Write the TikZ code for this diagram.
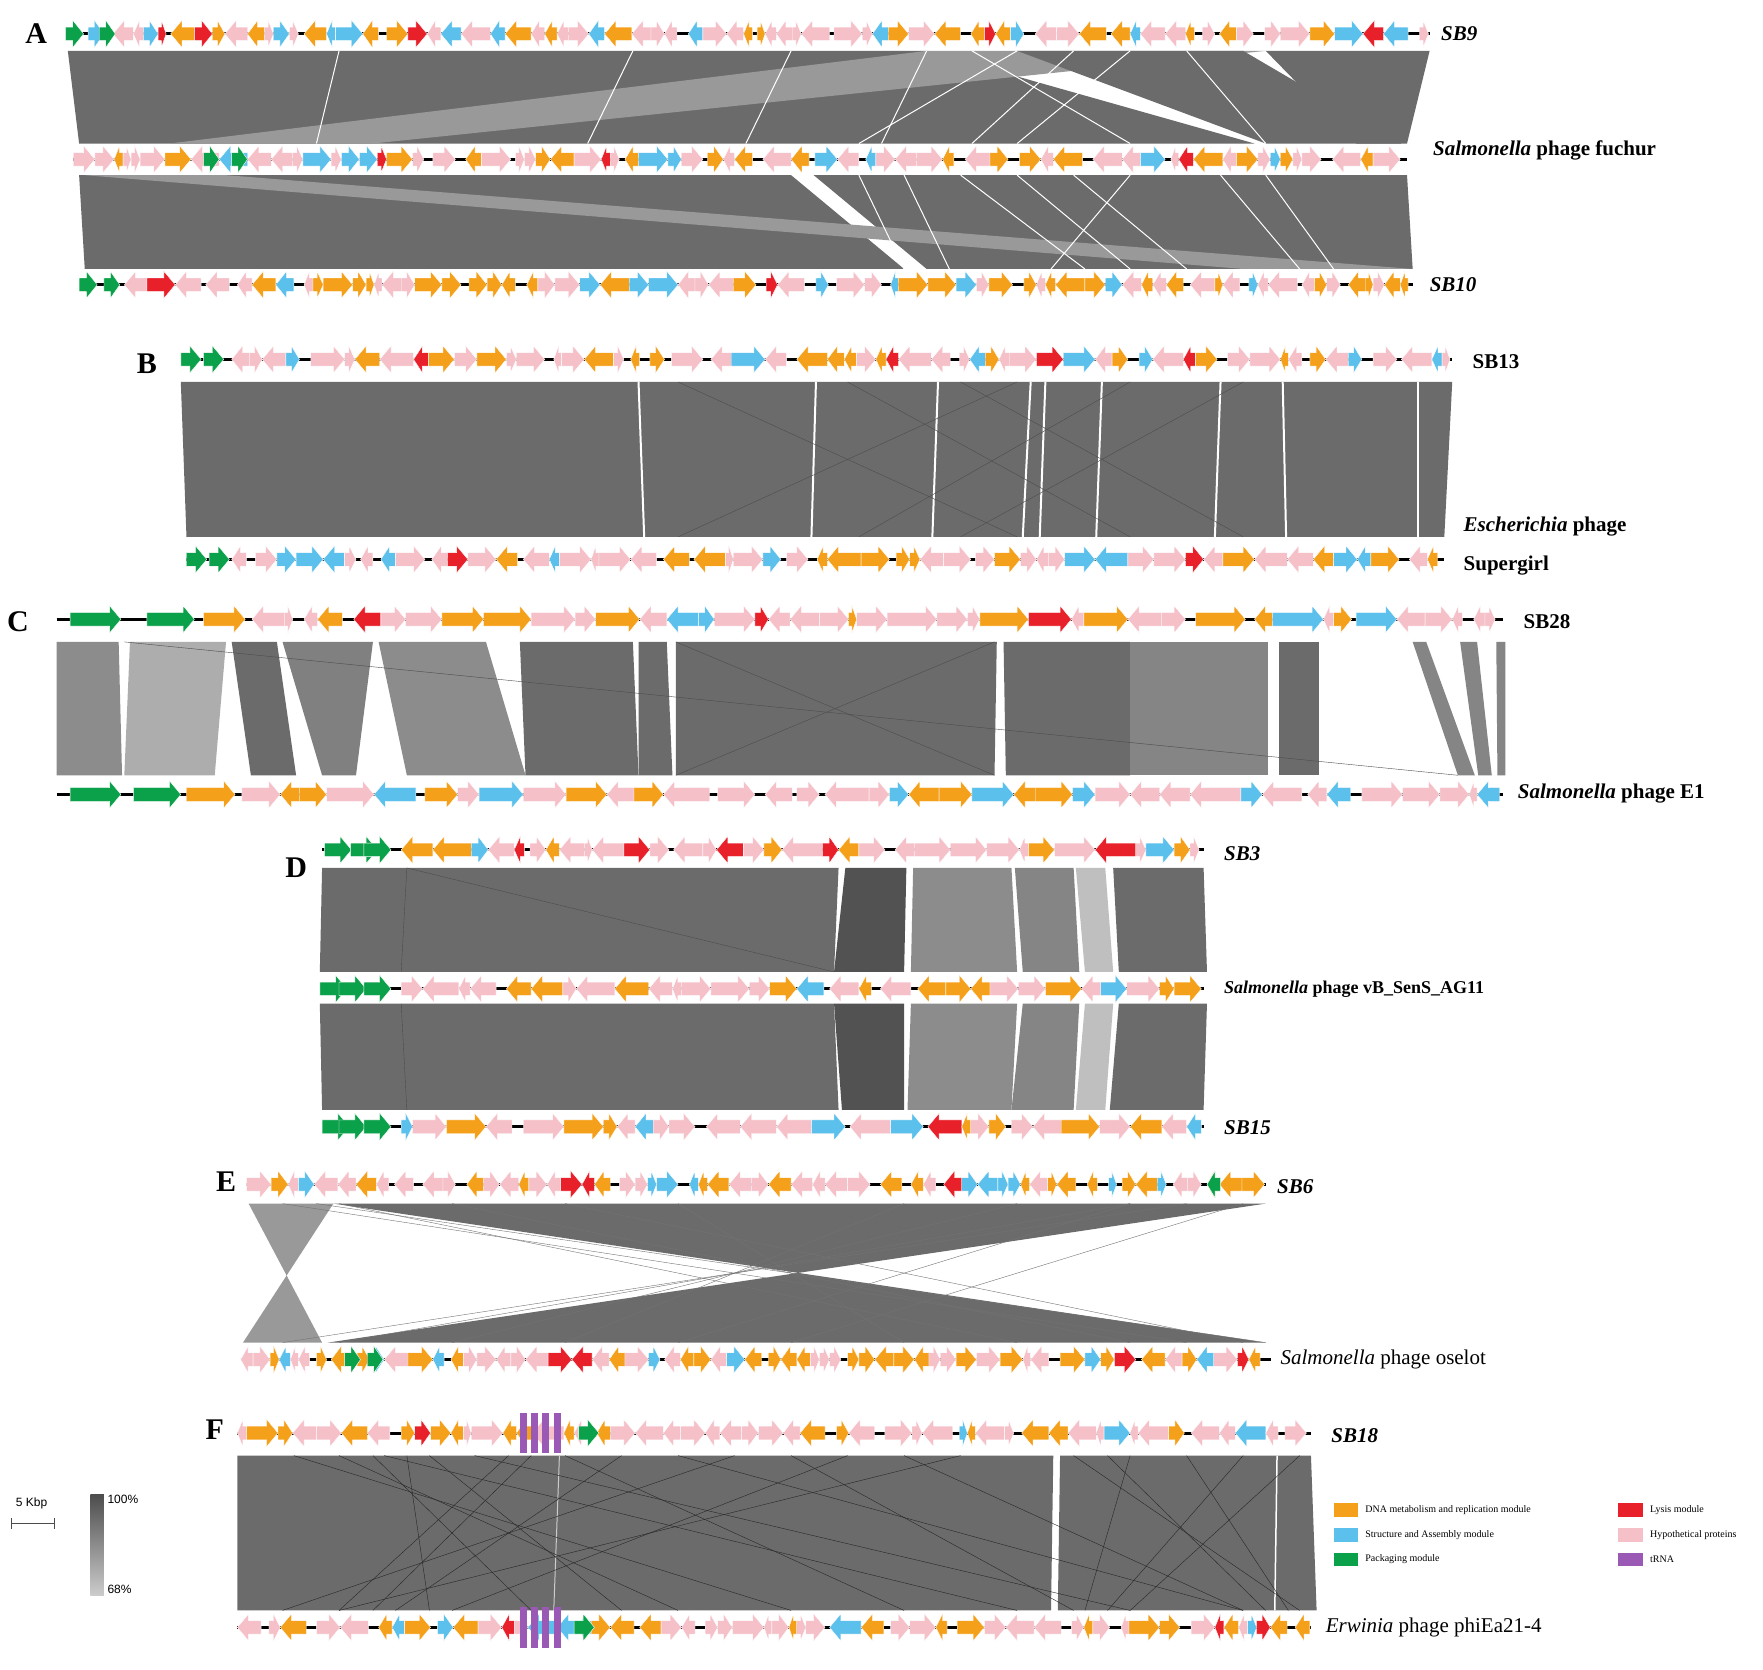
\documentclass[tikz,border=0pt]{standalone}
\usepackage{fontspec}
\setmainfont{Liberation Serif}
\setsansfont{Liberation Sans}
\definecolor{gor}{HTML}{F5A01A}
\definecolor{gbl}{HTML}{5BC0EB}
\definecolor{gpk}{HTML}{F5C0C8}
\definecolor{ggr}{HTML}{0BA04A}
\definecolor{grd}{HTML}{E8202A}
\definecolor{gpu}{HTML}{9B59B6}
\tikzset{band/.style={fill=black!58},lband/.style={fill=black!40},
 wl/.style={white,line width=1pt},xl/.style={black!70,line width=.4pt},
 lab/.style={font=\fontsize{21}{24}\selectfont\bfseries,anchor=west},
 panel/.style={font=\fontsize{30}{32}\selectfont\bfseries}}
\newcommand\garr[5]{%
 \pgfmathsetmacro\tl{min(10,#3*0.6)}%
 \ifnum#4=1
  \fill[#5,draw=white,line width=.4pt] (#1,#2-6)--(#1+#3-\tl,#2-6)--(#1+#3-\tl,#2-12)--(#1+#3,#2)--(#1+#3-\tl,#2+12)--(#1+#3-\tl,#2+6)--(#1,#2+6)--cycle;
 \else
  \fill[#5,draw=white,line width=.4pt] (#1+#3,#2-6)--(#1+\tl,#2-6)--(#1+\tl,#2-12)--(#1,#2)--(#1+\tl,#2+12)--(#1+\tl,#2+6)--(#1+#3,#2+6)--cycle;
 \fi}
% x0 x1 y seed maxw genes-start
\newcommand\genome[6]{%
 \draw[line width=3pt] (#1,#3)--(#2,#3);
 \pgfmathsetseed{#4}%
 \xdef\gx{#6}%
 \foreach \i in {1,...,260}{%
  \pgfmathsetmacro\w{random(7,#5)}%
  \pgfmathtruncatemacro\gp{random(0,9)}%
  \ifnum\gp>7 \pgfmathsetmacro\gp{random(4,10)}\else\def\gp{0}\fi
  \pgfmathsetmacro\nx{\gx+\w}%
  \ifdim\nx pt<#2pt
   \pgfmathtruncatemacro\r{random(1,20)}%
   \pgfmathtruncatemacro\d{random(0,1)}%
   \ifnum\d=0 \def\d{-1}\fi
   \ifnum\r<10 \def\cc{gpk}\else\ifnum\r<16 \def\cc{gor}\else\ifnum\r<19 \def\cc{gbl}\else\ifnum\r=19 \def\cc{grd}\else\def\cc{gpk}\fi\fi\fi\fi
   \garr{\gx}{#3}{\w}{\d}{\cc}%
   \pgfmathsetmacro\gx{\nx+\gp}\xdef\gx{\gx}%
  \fi}}
\begin{document}
\begin{tikzpicture}[x=1.13pt,y=-1.13pt]
\useasboundingbox (0,0) rectangle (1560,1477);
\fill[white] (0,0) rectangle (1560,1477);
% ---------- A
\fill[band] (60,45)--(820,45)--(1110,127)--(70,127)--cycle;
\fill[band] (1120,45)--(1265,45)--(1245,127)--(1200,127)--cycle;
\fill[lband] (820,45)--(1120,45)--(330,127)--(150,127)--cycle;
\fill[band] (900,45)--(1100,45)--(1240,127)--(1120,127)--cycle;
\foreach \a/\b in {300/280,560/520,700/660,820/780,860/1000,900/760,950/860,1000/900,1050/1120}{\draw[wl] (\a,45)--(\b,127);}
\fill[band] (70,155)--(700,155)--(800,238)--(75,238)--cycle;
\fill[band] (720,155)--(1245,155)--(1250,238)--(820,238)--cycle;
\fill[lband] (75,155)--(200,155)--(1250,238)--(1100,238)--cycle;
\foreach \a/\b in {760/800,800/840,850/960,900/1000,950/1050,1000/930,1080/1150,1120/1180}{\draw[wl] (\a,155)--(\b,238);}
\genome{58}{1265}{30}{11}{26}{100}
\garr{58}{30}{16}{1}{ggr}\garr{78}{30}{14}{1}{gbl}\garr{88}{30}{14}{1}{ggr}
\genome{65}{1245}{141}{12}{26}{65}
\genome{70}{1250}{252}{13}{26}{110}
\garr{70}{252}{16}{1}{ggr}\garr{92}{252}{14}{1}{ggr}
\foreach \x in {180,205} {\garr{\x}{141}{14}{1}{ggr}}
\node[panel] at (32,30) {A};
\node[lab] at (1272,30) {\itshape SB9};
\node[lab] at (1265,133) {\itshape Salmonella\upshape{} phage fuchur};
\node[lab] at (1262,252) {\itshape SB10};
% ---------- B
\fill[band] (160,338)--(1285,338)--(1278,475)--(165,475)--cycle;
\foreach \a/\b in {565/570,722/718,830/825,912/905,925/920,975/970,1080/1075,1135/1138,1255/1255}{\draw[wl,line width=2pt] (\a,338)--(\b,475);}
\foreach \a/\b in {600/900,900/600,750/1000,1000/760,850/1100,1100/850}{\draw[xl] (\a,338)--(\b,475);}
\genome{160}{1285}{318}{21}{30}{205}
\garr{160}{318}{18}{1}{ggr}\garr{180}{318}{18}{1}{ggr}
\genome{165}{1278}{495}{22}{30}{205}
\garr{165}{495}{18}{1}{ggr}\garr{185}{495}{18}{1}{ggr}
\node[panel] at (130,322) {B};
\node[lab] at (1300,320) {SB13};
\node[lab] at (1292,466) {\itshape Escherichia\upshape{} phage};
\node[lab] at (1292,500) {Supergirl};
% ---------- C
\fill[black!45] (50,568)--(105,568)--(108,686)--(50,686)--cycle;
\fill[black!32] (115,568)--(200,568)--(190,686)--(110,686)--cycle;
\fill[band] (205,568)--(245,568)--(262,686)--(222,686)--cycle;
\fill[black!50] (250,568)--(330,568)--(315,686)--(285,686)--cycle;
\fill[black!45] (335,568)--(430,568)--(465,686)--(360,686)--cycle;
\fill[band] (460,568)--(560,568)--(565,686)--(465,686)--cycle;
\fill[band] (565,568)--(590,568)--(595,686)--(565,686)--cycle;
\fill[band] (598,568)--(882,568)--(880,686)--(598,686)--cycle;
\fill[band] (888,568)--(1000,568)--(1000,686)--(890,686)--cycle;
\fill[black!48] (1000,568)--(1122,568)--(1122,686)--(1000,686)--cycle;
\fill[band] (1132,568)--(1167,568)--(1167,686)--(1132,686)--cycle;
\fill[black!48] (1250,568)--(1262,568)--(1305,686)--(1290,686)--cycle;
\fill[black!48] (1292,568)--(1307,568)--(1320,686)--(1308,686)--cycle;
\fill[black!48] (1324,568)--(1332,568)--(1332,686)--(1325,686)--cycle;
\draw[xl] (110,568)--(1290,686); \draw[xl] (598,568)--(880,686); \draw[xl] (880,568)--(598,686);
\genome{50}{1330}{548}{31}{45}{180}
\garr{62}{548}{45}{1}{ggr}\garr{130}{548}{42}{1}{ggr}
\genome{50}{1330}{703}{32}{45}{165}
\garr{62}{703}{45}{1}{ggr}\garr{118}{703}{42}{1}{ggr}
\node[panel] at (16,550) {C};
\node[lab] at (1345,550) {SB28};
\node[lab] at (1340,702) {\itshape Salmonella\upshape{} phage E1};
% ---------- D
\fill[band] (285,768)--(742,768)--(738,860)--(283,860)--cycle;
\fill[black!68] (748,768)--(802,768)--(800,860)--(738,860)--cycle;
\fill[black!45] (808,768)--(895,768)--(900,860)--(806,860)--cycle;
\fill[black!48] (898,768)--(950,768)--(955,860)--(905,860)--cycle;
\fill[black!25] (952,768)--(978,768)--(985,860)--(960,860)--cycle;
\fill[band] (985,768)--(1065,768)--(1068,860)--(990,860)--cycle;
\fill[band] (283,888)--(738,888)--(742,982)--(285,982)--cycle;
\fill[black!68] (738,888)--(800,888)--(800,982)--(745,982)--cycle;
\fill[black!45] (806,888)--(900,888)--(895,982)--(803,982)--cycle;
\fill[black!48] (905,888)--(955,888)--(950,982)--(895,982)--cycle;
\fill[black!25] (960,888)--(985,888)--(978,982)--(952,982)--cycle;
\fill[band] (990,888)--(1068,888)--(1065,982)--(982,982)--cycle;
\draw[xl] (360,768)--(355,860); \draw[xl] (360,768)--(738,860); \draw[xl] (360,982)--(355,888);
\genome{285}{1065}{752}{41}{36}{355}
\foreach \x in {287,310,322}{\garr{\x}{752}{24}{1}{ggr}}
\genome{283}{1065}{875}{42}{36}{355}
\foreach \x in {283,300,322}{\garr{\x}{875}{24}{1}{ggr}}
\genome{285}{1065}{997}{43}{36}{355}
\foreach \x in {285,300,322}{\garr{\x}{997}{24}{1}{ggr}}
\node[panel] at (262,768) {D};
\node[lab] at (1080,755) {\itshape SB3};
\node[lab,font=\fontsize{18}{20}\selectfont\bfseries] at (1080,875) {\itshape Salmonella\upshape{} phage vB\_SenS\_AG11};
\node[lab] at (1080,998) {\itshape SB15};
% ---------- E
\fill[black!40] (220,1065)--(295,1065)--(215,1188)--(285,1188)--cycle;
\fill[band] (295,1065)--(1120,1065)--(290,1188)--(1120,1188)--cycle;
\foreach \a/\b in {300/900,400/1000,500/1100,600/800,800/500,900/400,1000/600,1100/700,250/1050,280/1120,1000/300,1050/250}{\draw[xl,black!55] (\a,1065)--(\b,1188);}
\genome{218}{1120}{1048}{51}{22}{218}
\garr{1068}{1048}{12}{-1}{ggr}
\genome{213}{1125}{1203}{52}{22}{213}
\foreach \x in {305,325}{\garr{\x}{1203}{14}{1}{ggr}}
\node[panel] at (200,1046) {E};
\node[lab] at (1127,1050) {\itshape SB6};
\node[lab,font=\fontsize{21}{24}\selectfont] at (1130,1203) {\itshape Salmonella\upshape{} phage oselot};
% ---------- F
\fill[band] (210,1288)--(932,1288)--(930,1425)--(210,1425)--cycle;
\fill[band] (938,1288)--(1160,1288)--(1165,1425)--(936,1425)--cycle;
\draw[white,line width=1.5pt] (1130,1288)--(1128,1425);
\draw[white!80!black,line width=1pt] (495,1288)--(490,1425);
\foreach \a/\b in {260/700,300/600,340/900,380/550,420/1000,450/300,500/800,550/350,600/1100,650/250,700/950,750/400,800/1100,850/300,950/1150,1000/960,1050/1140,1100/980,1150/1000,980/1120,330/470,470/330,360/380}{\draw[black!85,line width=.4pt] (\a,1288)--(\b,1425);}
\genome{210}{1160}{1268}{61}{28}{210}
\genome{210}{1160}{1440}{62}{28}{210}
\foreach \x in {460,470,480,490}{\fill[gpu] (\x,1250) rectangle (\x+6,1286); \fill[gpu] (\x,1422) rectangle (\x+6,1458);}
\garr{512}{1268}{18}{1}{ggr}\garr{508}{1440}{18}{1}{ggr}
\node[panel] at (190,1265) {F};
\node[lab] at (1175,1270) {\itshape SB18};
\node[lab,font=\fontsize{21}{24}\selectfont] at (1170,1440) {\itshape Erwinia\upshape{} phage phiEa21-4};
% legend
\tikzset{lg/.style={anchor=west,font=\fontsize{10}{12}\selectfont}}
\fill[gor] (1180,1330) rectangle (1202,1342); \node[lg] at (1205,1336) {DNA metabolism and replication module};
\fill[gbl] (1180,1352) rectangle (1202,1364); \node[lg] at (1205,1358) {Structure and Assembly module};
\fill[ggr] (1180,1374) rectangle (1202,1386); \node[lg] at (1205,1380) {Packaging module};
\fill[grd] (1432,1330) rectangle (1454,1342); \node[lg] at (1457,1336) {Lysis module};
\fill[gpk] (1432,1352) rectangle (1454,1364); \node[lg] at (1457,1358) {Hypothetical proteins};
\fill[gpu] (1432,1374) rectangle (1454,1386); \node[lg] at (1457,1380) {tRNA};
% scale
\node[font=\sffamily\fontsize{12}{14}\selectfont] at (28,1330) {5 Kbp};
\draw[black!70,line width=.8pt] (10,1348)--(48,1348) (10,1343)--(10,1353) (48,1343)--(48,1353);
\shade[top color=black!70,bottom color=black!20] (80,1322) rectangle (92,1412);
\node[font=\sffamily\fontsize{12}{14}\selectfont,anchor=west] at (92,1327) {100\%};
\node[font=\sffamily\fontsize{12}{14}\selectfont,anchor=west] at (92,1406) {68\%};
\end{tikzpicture}
\end{document}
